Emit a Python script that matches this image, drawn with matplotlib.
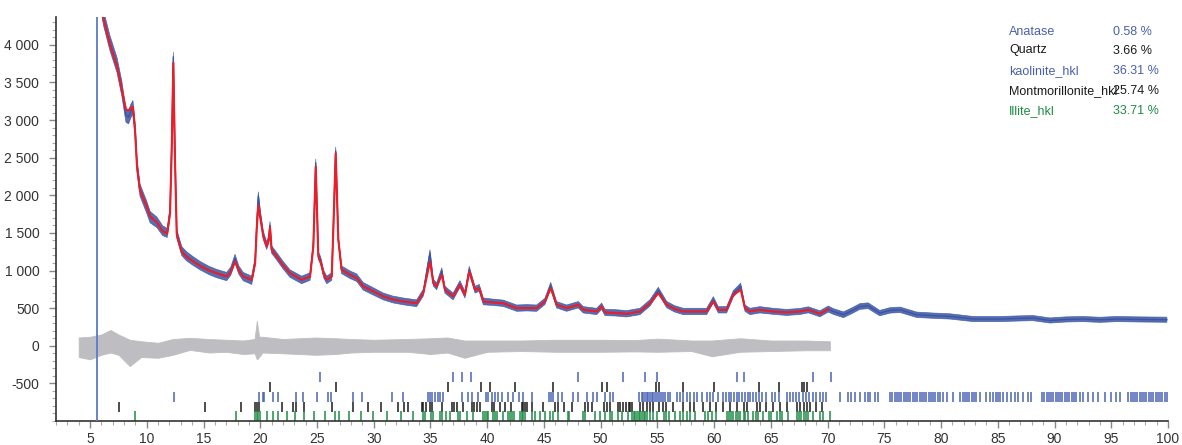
import numpy as np
import matplotlib
matplotlib.use("Agg")
import matplotlib.pyplot as plt
from matplotlib.ticker import MultipleLocator, FuncFormatter

plt.rcParams['font.family'] = ['Liberation Sans', 'DejaVu Sans']

# calculated profile (2theta, counts)
calc_tth = [4.0, 5.0, 5.8, 6.2, 6.76, 7.38, 7.8, 8.17, 8.4, 8.6, 8.78, 8.97, 9.14, 9.4,
            10.0, 10.3, 10.9, 11.4, 11.8, 12.05, 12.2, 12.34, 12.48, 12.64, 13.08, 13.5,
            14.1, 14.7, 15.5, 16.16, 17.04, 17.4, 17.78, 18.1, 18.5, 19.25, 19.55, 19.69,
            19.83, 20.0, 20.27, 20.57, 20.75, 20.86, 21.0, 21.45, 22.0, 22.62, 23.65, 24.39,
            24.68, 24.89, 25.12, 25.33, 25.6, 25.86, 26.3, 26.44, 26.65, 26.88, 27.17, 27.9,
            28.5, 29.08, 30.0, 30.85, 31.7, 32.6, 33.78, 34.37, 34.96, 35.25, 35.55, 36.0,
            36.28, 37.0, 37.6, 38.04, 38.42, 38.93, 39.3, 39.66, 40.5, 41.42, 42.6, 43.5,
            44.36, 45.09, 45.6, 46.12, 47.0, 48.03, 48.47, 49.65, 50.09, 50.38, 51.3, 52.29,
            53.47, 54.35, 55.08, 55.82, 56.5, 57.28, 58.3, 59.34, 59.93, 60.37, 61.1, 61.69,
            62.34, 62.72, 63.16, 64.04, 65.2, 66.39, 67.57, 68.3, 69.33, 70.06]
calc_int = [6500, 5600, 4700, 4330, 4000, 3710, 3400, 3140, 3130, 3160, 3175, 2850, 2380, 2070,
            1850, 1720, 1640, 1520, 1490, 1760, 2600, 3760, 2500, 1480, 1250, 1180,
            1120, 1060, 1000, 966, 921, 980, 1120, 1000, 921, 877, 1100, 1540,
            1870, 1700, 1450, 1320, 1400, 1580, 1276, 1187, 1070, 966, 877, 921,
            1320, 2380, 1187, 1110, 950, 877, 921, 1541, 2560, 1409, 1010, 943,
            900, 788, 720, 655, 615, 589, 566, 700, 1120, 833, 788, 943,
            744, 655, 810, 678, 987, 744, 766, 589, 575, 566, 500, 500,
            500, 589, 766, 545, 500, 545, 478, 456, 522, 443, 435, 425,
            456, 566, 700, 545, 490, 456, 456, 456, 589, 478, 478, 678,
            744, 500, 456, 478, 455, 443, 456, 478, 425, 488]

# observed profile: centre and half-height of the noise band
obs_tth = calc_tth + [70.5, 71.4, 72.2, 72.85, 73.58, 74.6, 75.5, 76.4, 77.85, 79.3, 80.8,
                      82.84, 85.2, 86.6, 88.1, 89.6, 91.0, 92.5, 94.0, 95.5, 97.5, 99.9]
obs_int = [6500, 5600, 4700, 4350, 4020, 3730, 3420, 3060, 3040, 3120, 3170, 2880, 2400, 2070,
           1840, 1710, 1640, 1530, 1500, 1780, 2700, 3840, 2600, 1490, 1260, 1190,
           1125, 1065, 1000, 960, 920, 990, 1160, 1010, 920, 870, 1120, 1600,
           1990, 1750, 1470, 1330, 1420, 1600, 1280, 1190, 1075, 960, 875, 920,
           1340, 2430, 1200, 1130, 950, 875, 920, 1560, 2590, 1420, 1010, 945,
           905, 790, 720, 655, 615, 590, 565, 705, 1230, 840, 790, 990,
           745, 655, 820, 680, 1010, 745, 770, 590, 578, 565, 500, 505,
           500, 590, 800, 545, 500, 545, 478, 456, 525, 443, 438, 425,
           456, 570, 735, 548, 492, 456, 456, 456, 610, 478, 478, 690,
           790, 500, 456, 478, 458, 443, 456, 478, 425, 488,
           456, 412, 470, 522, 532, 434, 470, 478, 412, 400, 390,
           355, 355, 362, 368, 336, 350, 355, 345, 355, 350, 346]
obs_noise = [110, 110, 110, 100, 100, 100, 100, 90, 90, 90, 90, 90, 90, 80,
             80, 75, 70, 65, 60, 60, 60, 60, 60, 60, 60, 60,
             58, 56, 55, 55, 55, 55, 55, 55, 55, 55, 55, 55,
             55, 55, 55, 50, 50, 50, 50, 50, 50, 50, 50, 50,
             50, 50, 50, 50, 50, 50, 50, 50, 50, 50, 50, 50,
             50, 50, 48, 45, 45, 45, 45, 45, 45, 45, 45, 45,
             45, 45, 45, 45, 45, 45, 45, 45, 42, 42, 42, 42,
             42, 42, 42, 42, 42, 42, 42, 42, 42, 42, 42, 42,
             42, 42, 42, 42, 42, 42, 42, 42, 42, 42, 42, 42,
             42, 42, 42, 42, 40, 40, 40, 40, 40, 40,
             38, 38, 38, 38, 38, 36, 36, 36, 36, 35, 35,
             34, 34, 34, 34, 34, 34, 34, 34, 34, 34, 34]

# difference curve (observed - calculated): band limits
diff_tth = [4.0, 5.0, 6.0, 6.8, 7.5, 8.5, 9.5, 11.0, 12.3, 13.8, 15.5, 17.0, 18.5, 19.5,
            19.7, 19.9, 20.2, 22.0, 24.9, 26.6, 28.0, 30.0, 33.0, 35.0, 36.5, 38.0, 40.0,
            43.0, 46.0, 50.0, 53.0, 55.0, 58.0, 59.8, 62.3, 65.0, 68.0, 70.2]
diff_lo = [-150, -180, -120, -90, -120, -270, -150, -160, -120, -55, -90, -80, -110, -100,
           -180, -150, -90, -100, -120, -110, -90, -80, -80, -110, -90, -160, -80,
           -70, -80, -80, -75, -80, -70, -140, -80, -70, -60, -60]
diff_hi = [110, 120, 150, 210, 150, 80, 60, 40, 90, 105, 90, 80, 70, 90,
           330, 120, 120, 90, 110, 100, 90, 80, 90, 100, 110, 70, 70,
           70, 80, 80, 75, 95, 70, 70, 100, 70, 70, 60]

# reflection positions per phase
anatase_pos = [25.27, 36.96, 37.81, 38.55, 47.98, 51.94, 53.9, 54.94, 62.04, 62.63, 68.68, 70.27]
quartz_pos = [20.86, 26.65, 36.52, 39.45, 40.25, 42.45, 45.77, 50.09, 50.53, 54.87, 55.1,
              57.28, 59.96, 63.98, 65.74, 67.71, 67.95, 68.2]
kaolinite_pos = [12.40, 19.92, 20.27, 20.33, 21.1, 21.6, 23.15, 23.8, 24.97, 25.94, 26.24,
                 28.2, 28.94, 31.58, 32.55, 34.75, 34.96, 35.17, 35.4, 35.64, 35.84, 36.14,
                 37.75, 38.34, 38.63, 39.16, 39.86, 40.1, 40.39, 40.69, 40.98, 41.27, 41.86,
                 42.3, 42.8, 43.18, 43.98, 45.45, 45.62, 45.83, 46.2, 46.56, 47.6, 47.97,
                 48.76, 49.35, 49.65, 50.4, 50.82, 51.1,
                 53.41, 53.6, 53.75, 53.9, 54.05, 54.2, 54.35, 54.5, 54.65, 54.8, 54.95, 55.1,
                 55.3, 55.5, 55.7, 55.9, 56.1, 56.7, 57.0, 57.3, 57.6, 57.9, 58.2, 58.5, 58.9,
                 59.34, 59.6, 59.9, 60.37, 60.8, 61.05, 61.3, 61.5, 61.75, 62.0, 62.2, 62.45,
                 62.7, 62.95, 63.2, 63.45, 63.7, 63.95, 64.2, 64.6, 65.07, 65.4, 65.7, 66.4,
                 66.7, 66.95, 67.2, 67.5, 67.8, 68.1, 68.4, 68.7, 69.0, 69.3, 69.6, 69.9,
                 71.09, 71.82, 72.1, 72.4, 72.85, 73.3, 73.6, 73.75, 74.17, 74.46,
                 75.5, 75.7, 75.9, 76.1, 76.3, 76.5, 76.7, 76.9, 77.1, 77.3, 77.5, 77.7, 77.9,
                 78.1, 78.3, 78.5, 78.7, 78.9, 79.1, 79.3, 79.5, 79.7, 79.9, 80.2, 80.5,
                 81.07, 81.66, 81.9, 82.1, 82.3, 82.5, 82.7, 82.9, 83.1, 83.42,
                 84.0, 84.3, 84.6, 84.8, 85.0, 85.2, 85.5, 85.77,
                 86.2, 86.5, 86.8, 87.2, 87.7, 87.97,
                 88.86, 89.1, 89.3, 89.5, 89.7, 89.9, 90.1, 90.3, 90.5, 90.7, 90.9, 91.1,
                 91.3, 91.5, 91.7, 91.9, 92.23, 92.5, 92.95, 93.4, 93.85, 94.44, 95.02,
                 95.46, 95.76, 96.5, 96.7, 96.9, 97.1, 97.3, 97.5, 97.7, 97.9, 98.1, 98.3,
                 98.5, 98.7, 98.9, 99.1, 99.3, 99.5, 99.7, 99.9]
montmorillonite_pos = [7.56, 15.13, 18.3, 19.54, 19.74, 19.92, 21.9, 22.92, 23.15, 23.89,
                       26.35, 28.2, 29.53, 30.61, 32.17, 32.7, 33.05, 34.23, 34.37, 34.65,
                       34.95, 35.1, 35.99, 36.87, 37.1, 37.31, 37.9, 38.63, 38.85, 39.07,
                       39.37, 40.39, 40.63, 41.13, 41.57, 42.1, 43.04, 43.18, 43.33, 43.48,
                       43.92, 44.95, 45.97, 46.2, 46.8, 47.44, 48.62, 48.9, 49.2, 50.32,
                       50.52, 50.82, 51.5, 51.7, 52.0, 52.2, 52.49, 52.6, 52.8, 53.5, 53.7,
                       54.05, 54.35, 54.6, 55.1, 55.5, 55.8, 56.4, 57.3, 57.9, 58.2, 59.05,
                       59.6, 60.2, 60.8, 61.4, 61.99, 62.6, 62.9, 63.75, 64.0, 64.6, 65.2,
                       65.8, 66.4, 67.3, 67.6, 67.9, 68.2, 68.45, 69.0, 69.47]
illite_pos = [8.97, 17.87, 19.54, 19.69, 19.83, 19.98, 20.57, 21.1, 21.54, 22.39, 23.06,
              23.83, 24.74, 25.7, 26.59, 26.97, 27.85, 28.85, 29.91, 31.14, 32.38, 33.49,
              34.31, 34.52, 35.02, 35.2, 35.84, 36.05, 36.34, 36.72, 37.4, 37.6, 38.2,
              38.78, 39.66, 39.8, 39.95, 40.1, 40.54, 40.68, 40.83, 41.42, 41.86, 42.0,
              42.2, 42.39, 42.89, 43.04, 43.18, 43.33, 43.92, 44.21, 44.65, 45.09, 45.53,
              45.83, 46.27, 47.09, 47.24, 48.47, 48.62, 49.5, 49.94, 50.38, 50.82, 50.97,
              51.55, 51.85, 52.44, 52.75, 52.9, 53.05, 53.2, 53.35, 53.5, 53.65, 53.8,
              53.95, 54.1, 54.35, 54.65, 55.0, 55.55, 55.8, 56.05, 56.55, 57.0, 57.3, 57.6,
              57.9, 58.3, 59.2, 59.5, 59.85, 60.2, 61.1, 61.3, 61.5, 61.7, 61.9, 62.1,
              62.3, 62.6, 62.75, 63.0, 63.45, 63.7, 63.9, 64.3, 64.8, 65.0, 65.5, 65.8,
              66.0, 66.5, 67.3, 67.5, 67.7, 67.9, 68.1, 68.3, 68.7, 69.3, 69.6, 70.2]

phase_names = ['Anatase', 'Quartz', 'kaolinite_hkl', 'Montmorillonite_hkl', 'Illite_hkl']
phase_wt = [0.58, 3.66, 36.31, 25.74, 33.71]
phase_colors = ['#4a5fb0', '#1a1a1a', '#4a5fb0', '#1a1a1a', '#1e8c45']
tick_colors = ['#4a63b5', '#1a1a1a', '#4a63b5', '#1a1a1a', '#1e8c45']
phase_pos = [anatase_pos, quartz_pos, kaolinite_pos, montmorillonite_pos, illite_pos]
# vertical band of each tick row (counts)
rows = [(-480, -350), (-610, -480), (-745, -615), (-875, -745), (-1000, -870)]

fig = plt.figure(figsize=(11.82, 4.45), dpi=100)
ax = fig.add_axes([56 / 1182, 24 / 445, (1168 - 56) / 1182, (421 - 17) / 445])

# difference
ax.fill_between(diff_tth, diff_lo, diff_hi, color='#bebec2', lw=0.6, zorder=1)

# observed
obs_int_a = np.array(obs_int)
obs_noise_a = np.array(obs_noise)
ax.fill_between(obs_tth, obs_int_a - obs_noise_a, obs_int_a + obs_noise_a,
                color='#3a55a4', alpha=0.85, lw=0.5, zorder=2)
ax.plot(obs_tth, obs_int, color='#3a55a4', lw=1.0, zorder=2)

# calculated
ax.plot(calc_tth, calc_int, color='#ee1c25', lw=1.5, zorder=3)

# reflection ticks
for pos, (y0, y1), c in zip(phase_pos, rows, tick_colors):
    ax.vlines(pos, y0, y1, colors=c, lw=1.1, zorder=2)

ax.axvline(5.62, color='#5a7bc6', lw=1.3, zorder=4)

ax.set_xlim(2, 100)
ax.set_ylim(-1000, 4370)
for s in ['top', 'right']:
    ax.spines[s].set_visible(False)
for s in ['left', 'bottom']:
    ax.spines[s].set_color('#333333')
    ax.spines[s].set_linewidth(1.2)

ax.xaxis.set_major_locator(MultipleLocator(5))
ax.xaxis.set_minor_locator(MultipleLocator(1))
ax.set_yticks(np.arange(-500, 4001, 500))
ax.yaxis.set_minor_locator(MultipleLocator(100))
ax.yaxis.set_major_formatter(FuncFormatter(lambda v, p: f"{v:,.0f}".replace(",", " ")))
ax.set_xticks([5 * i for i in range(1, 21)])
ax.tick_params(axis='both', which='major', length=5, width=1, color='#888888',
               labelsize=10, labelcolor='#333333')
ax.tick_params(axis='both', which='minor', length=3, width=0.8, color='#aaaaaa')
ax.tick_params(axis='x', pad=3)
ax.tick_params(axis='y', pad=7)

# phase legend
ys = [31.7, 50.5, 71.0, 91.0, 111.0]
for name, wt, c, yp in zip(phase_names, phase_wt, phase_colors, ys):
    fig.text(1009 / 1182, 1 - yp / 445, name, color=c, fontsize=9, va='center', ha='left')
    fig.text(1113 / 1182, 1 - yp / 445, f"{wt:.2f} %", color=c, fontsize=9,
             va='center', ha='left')

fig.savefig('out.png', dpi=100)
